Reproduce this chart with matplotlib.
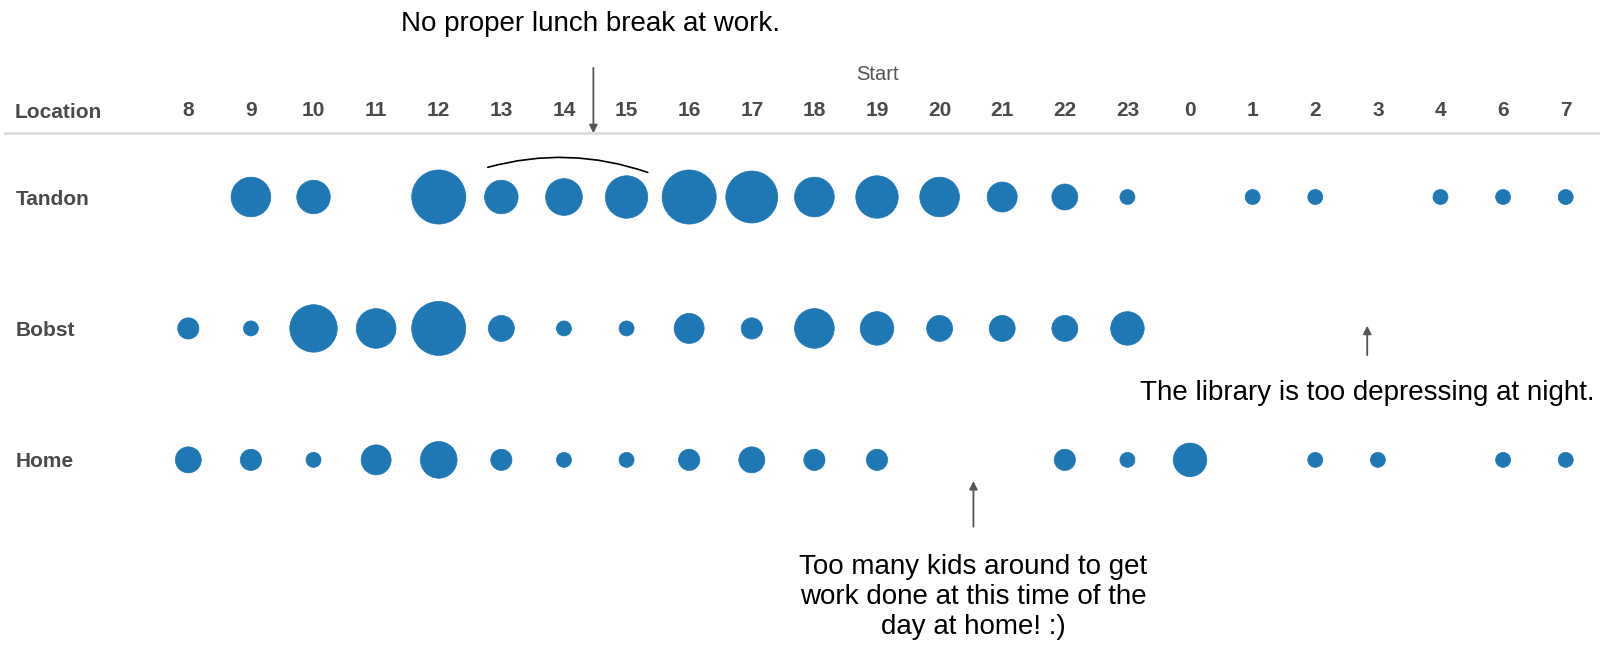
import numpy as np
import matplotlib.pyplot as plt
from matplotlib.patches import FancyArrowPatch

plt.rcParams['font.family'] = ['Liberation Sans', 'DejaVu Sans']

# start hour of each work session (columns) and number of sessions per location
hours = ['8', '9', '10', '11', '12', '13', '14', '15', '16', '17', '18', '19',
         '20', '21', '22', '23', '0', '1', '2', '3', '4', '6', '7']
locations = ['Tandon', 'Bobst', 'Home']
tandon = [0, 7, 5, 0, 13, 5, 6, 8, 13, 12, 7, 8, 7, 4, 3, 1, 0, 1, 1, 0, 1, 1, 1]
bobst = [2, 1, 10, 7, 13, 3, 1, 1, 4, 2, 7, 5, 3, 3, 3, 5, 0, 0, 0, 0, 0, 0, 0]
home = [3, 2, 1, 4, 6, 2, 1, 1, 2, 3, 2, 2, 0, 0, 2, 1, 5, 0, 1, 1, 0, 1, 1]

W, H = 1600, 657
fig = plt.figure(figsize=(W / 100, H / 100), dpi=100)
ax = fig.add_axes([157 / W, 0, 1440 / W, 1 - 133 / H])
ax.set_xlim(-0.5, len(hours) - 0.5)
ax.set_ylim(3.5, -0.487)

blue = '#1f77b4'
k = (15 * 0.72) ** 2  # marker area for one session
for row, counts in enumerate([tandon, bobst, home]):
    counts = np.array(counts)
    x = np.arange(len(hours))[counts > 0]
    ax.scatter(x, np.full(len(x), row), s=counts[counts > 0] * k,
               color=blue, edgecolors=blue, linewidths=0.5, zorder=3)

# header / row labels
txt = '#4a4a4a'
ax.xaxis.tick_top()
ax.set_xticks(np.arange(len(hours)))
ax.set_xticklabels(hours, fontsize=15, fontweight='bold', color=txt)
ax.set_yticks(range(len(locations)))
ax.set_yticklabels(locations, fontsize=15, fontweight='bold', color=txt)
for lab in ax.get_yticklabels():
    lab.set_horizontalalignment('left')
ax.tick_params(axis='x', length=0, pad=9)
ax.tick_params(axis='y', length=0, pad=102)
for sp in ax.spines.values():
    sp.set_visible(False)

fig.text(15 / W, 1 - 112 / H, 'Location', fontsize=15, fontweight='bold',
         color=txt, ha='left', va='center')
fig.text(877 / W, 1 - 74 / H, 'Start', fontsize=14.5, color='#555555',
         ha='center', va='center')
fig.add_artist(plt.Line2D([5 / W, 1], [1 - 133 / H] * 2, color='#dddddd', lw=2))

# annotations
arrow_kw = dict(arrowstyle='-|>', color='#555555', lw=1.3, mutation_scale=12)
ax.annotate('', xy=(6.47, -0.464), xytext=(6.47, -1.004),
            arrowprops=arrow_kw, annotation_clip=False)
ax.text(6.42, -1.32, 'No proper lunch break at work.', fontsize=20,
        ha='center', va='center', clip_on=False)
ax.add_patch(FancyArrowPatch((4.74, -0.22), (7.38, -0.18), arrowstyle='-',
                             connectionstyle='arc3,rad=-0.16', color='black',
                             lw=1.2, clip_on=False))

ax.annotate('', xy=(18.83, 0.958), xytext=(18.83, 1.224), arrowprops=arrow_kw)
ax.text(18.83, 1.49, 'The library is too depressing at night.', fontsize=20,
        ha='center', va='center')

ax.annotate('', xy=(12.54, 2.14), xytext=(12.54, 2.53), arrowprops=arrow_kw)
ax.text(12.54, 3.04, 'Too many kids around to get\nwork done at this time of the\nday at home! :)',
        fontsize=20, ha='center', va='center', linespacing=1.2)

fig.savefig('out.png', dpi=100)
